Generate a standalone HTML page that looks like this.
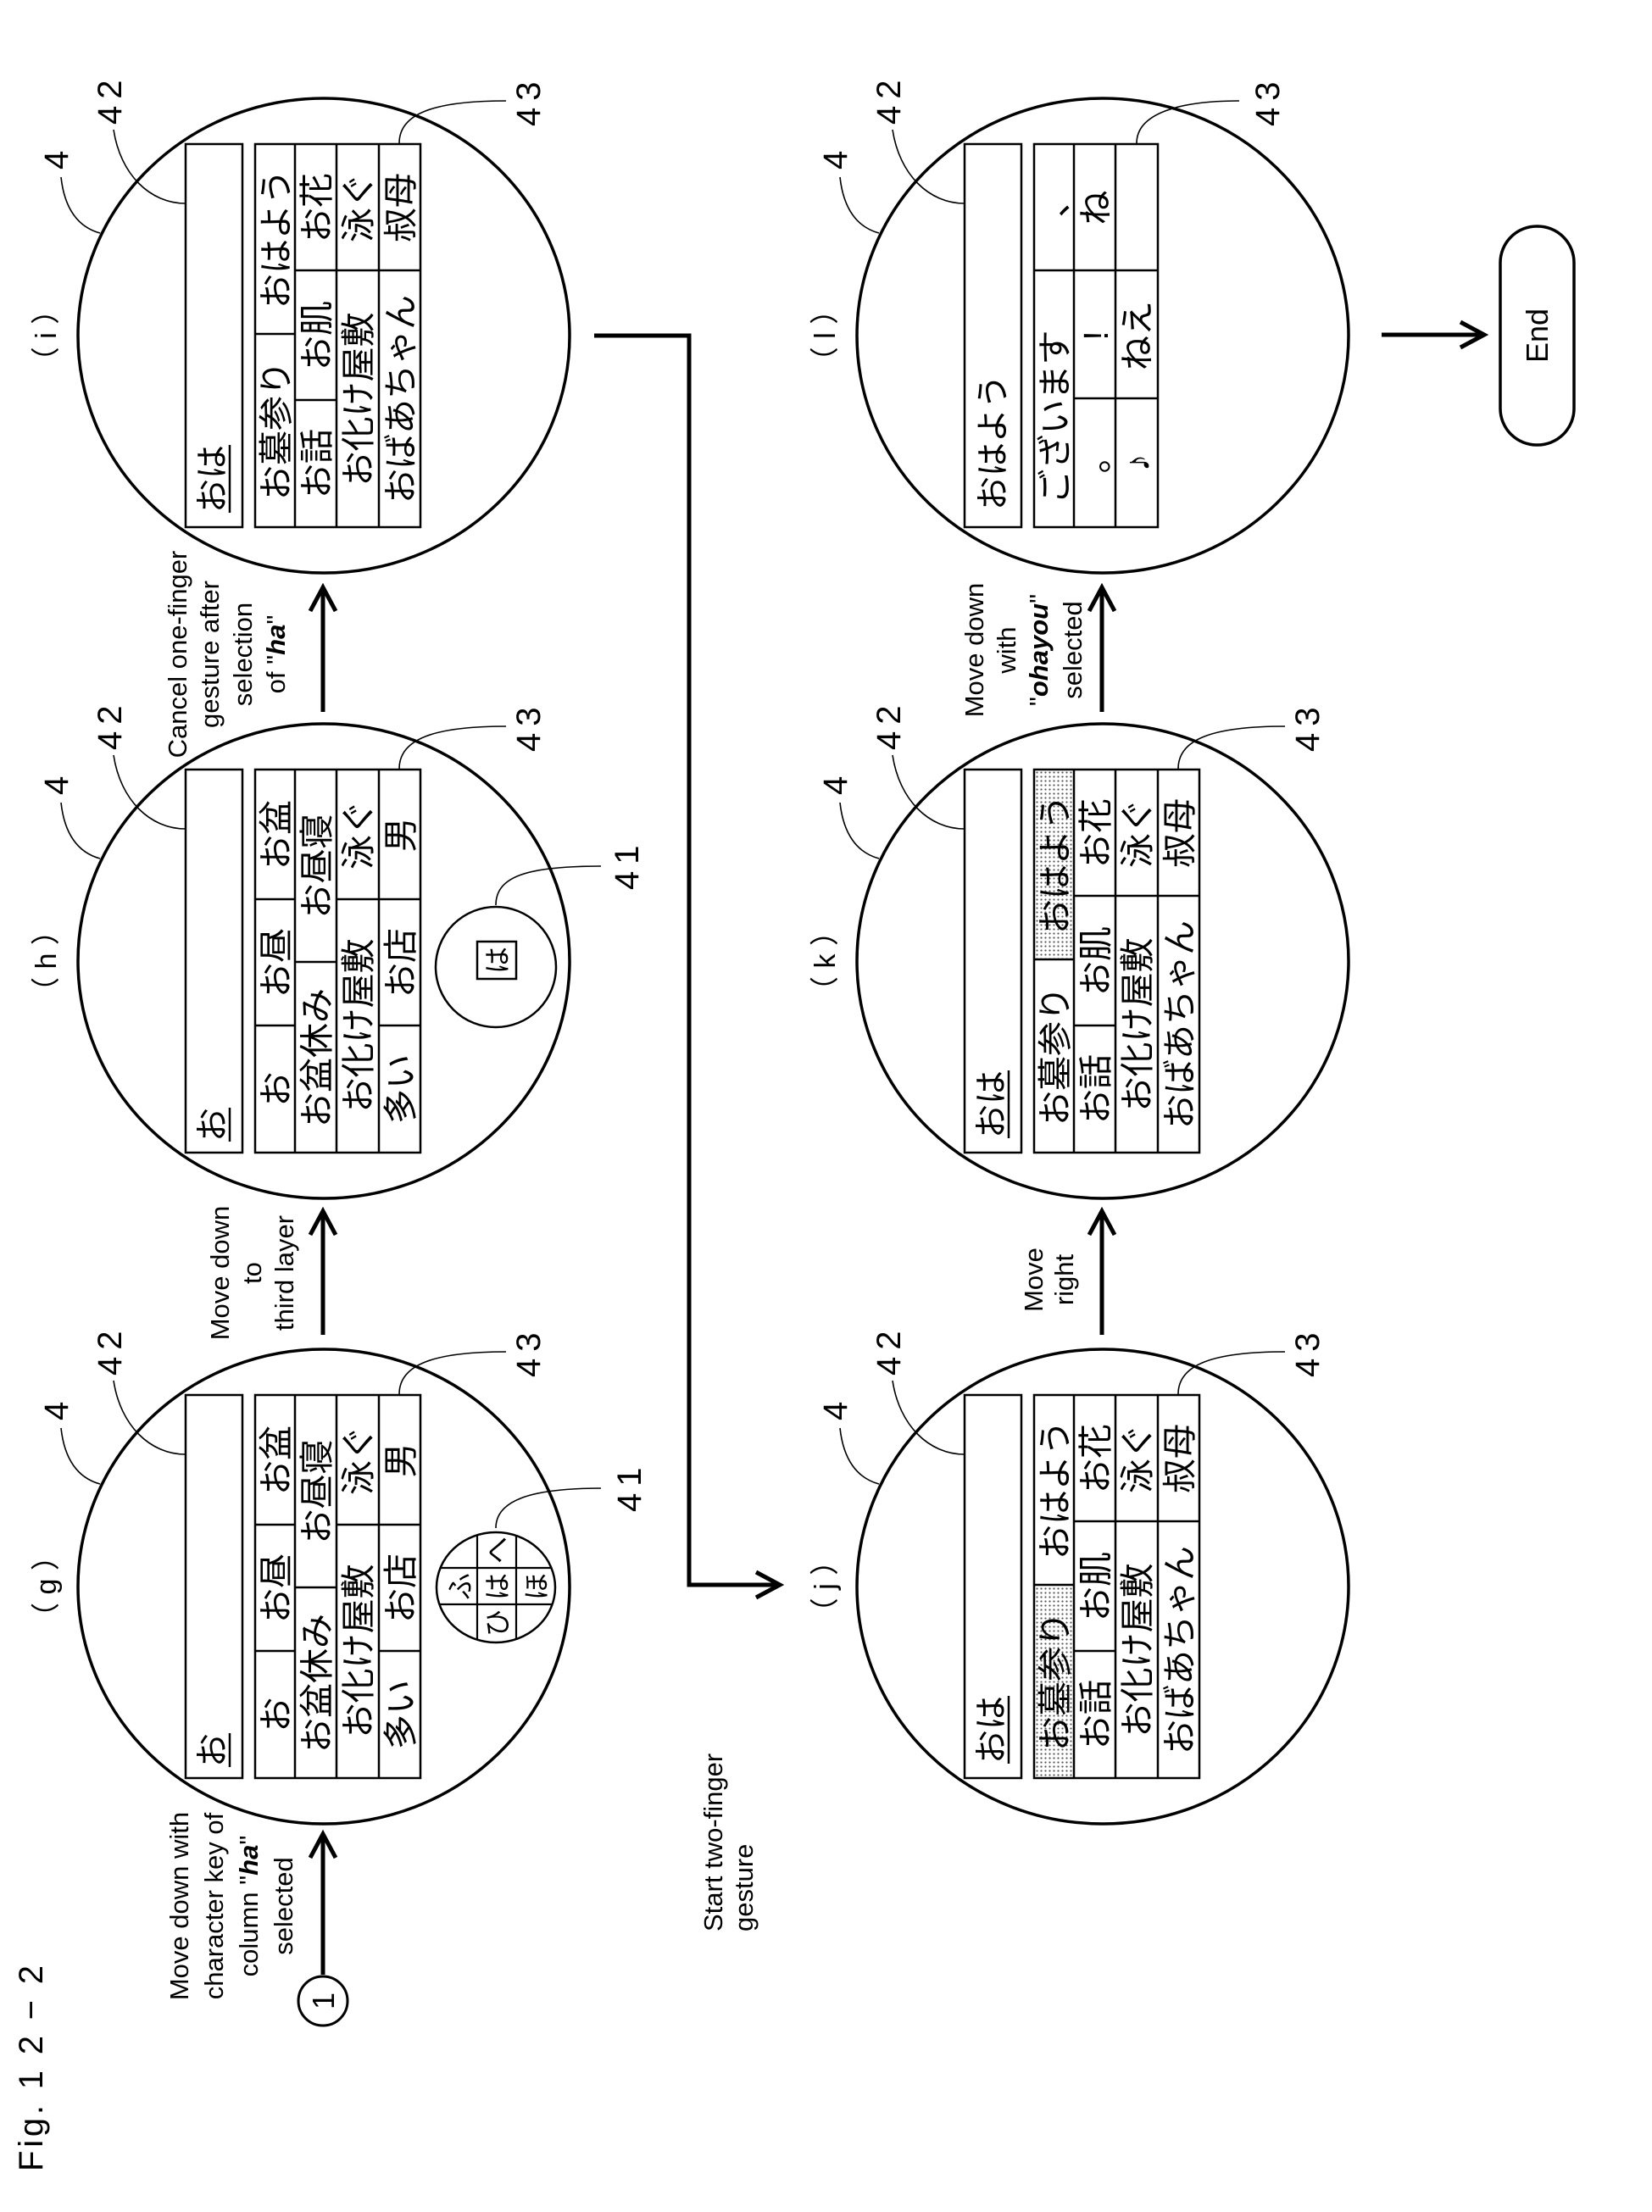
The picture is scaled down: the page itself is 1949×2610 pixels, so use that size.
<!DOCTYPE html>
<html><head><meta charset="utf-8"><style>
html,body{margin:0;padding:0;background:#fff;}
svg{display:block;}
text{font-family:"Liberation Sans","Noto Sans CJK JP",sans-serif;fill:#000;}
.jp{font-size:41px;text-anchor:middle;}
.num{font-size:40px;letter-spacing:8px;}
.lbl{font-size:34px;text-anchor:middle;}
.en{font-size:31px;text-anchor:middle;}
.it{font-style:italic;font-weight:bold;}
</style></head><body>
<svg width="1949" height="2610" viewBox="0 0 1949 2610" xmlns="http://www.w3.org/2000/svg">
<defs>
<pattern id="dots" width="5" height="5" patternUnits="userSpaceOnUse"><rect width="5" height="5" fill="#fff"/><circle cx="2.5" cy="2.5" r="1.1" fill="#555"/></pattern>
<clipPath id="sm"><ellipse cx="-1" cy="203" rx="65" ry="70"/></clipPath>
</defs>
<g transform="translate(0,2610) rotate(-90)">
<text x="48" y="50" font-size="40" textLength="243" lengthAdjust="spacing">Fig. 1 2 − 2</text>

<circle cx="249" cy="381" r="29" fill="none" stroke="#000" stroke-width="3"/>
<text x="249" y="394" font-size="36" text-anchor="middle">1</text>
<g stroke="#000" stroke-width="5" fill="none">
<line x1="280" y1="381" x2="446" y2="381"/><polyline points="418,366 446,381 418,396"/>
<line x1="1035" y1="381" x2="1181" y2="381"/><polyline points="1153,366 1181,381 1153,396"/>
<line x1="1770" y1="381" x2="1917" y2="381"/><polyline points="1889,366 1917,381 1889,396"/>
<line x1="1035" y1="1300" x2="1181" y2="1300"/><polyline points="1153,1285 1181,1300 1153,1315"/>
<line x1="1770" y1="1300" x2="1917" y2="1300"/><polyline points="1889,1285 1917,1300 1889,1315"/>
<line x1="2215" y1="1630" x2="2215" y2="1751"/><polyline points="2200,1723 2215,1751 2230,1723"/>
<polyline points="2214,701 2214,813 740,813 740,920"/><polyline points="725,892 740,920 755,892"/>
</g>

<text class="en"><tspan x="361" y="222">Move down with</tspan><tspan x="361" y="263">character key of</tspan><tspan x="361" y="304">column "<tspan class="it">ha</tspan>"</tspan><tspan x="361" y="345">selected</tspan></text>
<text class="en"><tspan x="1108" y="270">Move down</tspan><tspan x="1108" y="308">to</tspan><tspan x="1108" y="346">third layer</tspan></text>
<text class="en" font-size="30"><tspan x="1838" y="220">Cancel one-finger</tspan><tspan x="1838" y="258">gesture after</tspan><tspan x="1838" y="297">selection</tspan><tspan x="1838" y="336">of "<tspan class="it">ha</tspan>"</tspan></text>
<text font-size="31"><tspan x="331" y="852">Start two-finger</tspan><tspan x="331" y="888">gesture</tspan></text>
<text class="en"><tspan x="1100" y="1230">Move</tspan><tspan x="1100" y="1266">right</tspan></text>
<text class="en"><tspan x="1843" y="1160">Move down</tspan><tspan x="1843" y="1198">with</tspan><tspan x="1843" y="1236">"<tspan class="it">ohayou</tspan>"</tspan><tspan x="1843" y="1276">selected</tspan></text>

<rect x="2085" y="1770" width="258" height="87" rx="43" fill="none" stroke="#000" stroke-width="3.5"/>
<text x="2214" y="1826" font-size="36" text-anchor="middle">End</text>

<!-- g -->
<g transform="translate(738,382)">
<text class="lbl" x="0" y="-316">（ g ）</text>
<ellipse cx="0" cy="0" rx="280" ry="290" fill="none" stroke="#000" stroke-width="3.5"/>
<g fill="none" stroke="#000" stroke-width="1.6">
<path d="M187,-310 C150,-306 128,-290 121,-264"/>
<path d="M243,-248 C190,-240 156,-205 156,-163"/>
<path d="M277,215 C277,130 262,89 227,89"/>
<path d="M116,327 C116,240 100,203 69,203"/>
</g>
<text class="num" x="196" y="-302">4</text>
<text class="num" x="249" y="-239">42</text>
<text class="num" x="247" y="255">43</text>
<text class="num" x="88" y="374">41</text>
<rect x="-226" y="-163" width="452" height="67" fill="none" stroke="#000" stroke-width="2.5"/>
<text x="-213" y="-118" font-size="40">お</text><line x1="-213" y1="-111" x2="-173" y2="-111" stroke="#000" stroke-width="2.5"/>
<g fill="none" stroke="#000" stroke-width="2.5">
<rect x="-226" y="-81" width="452" height="195"/>
<line x1="-226" y1="-34" x2="226" y2="-34"/><line x1="-226" y1="15" x2="226" y2="15"/><line x1="-226" y1="65" x2="226" y2="65"/>
<line x1="-76" y1="-81" x2="-76" y2="-34"/><line x1="73" y1="-81" x2="73" y2="-34"/>
<line x1="-1" y1="-34" x2="-1" y2="15"/>
<line x1="73" y1="15" x2="73" y2="65"/>
<line x1="-76" y1="65" x2="-76" y2="114"/><line x1="73" y1="65" x2="73" y2="114"/>
</g>
<text class="jp" x="-151" y="-42">お</text><text class="jp" x="-2" y="-42">お昼</text><text class="jp" x="149" y="-42">お盆</text>
<text class="jp" x="-114" y="6" font-size="45">お盆休み</text><text class="jp" x="112" y="6">お昼寝</text>
<text class="jp" x="-76" y="55" font-size="44">お化け屋敷</text><text class="jp" x="149" y="55">泳ぐ</text>
<text class="jp" x="-151" y="105">多い</text><text class="jp" x="-2" y="105">お店</text><text class="jp" x="149" y="105">男</text>
<ellipse cx="-1" cy="203" rx="65" ry="70" fill="none" stroke="#000" stroke-width="2.5"/>
<g clip-path="url(#sm)" stroke="#000" stroke-width="2.2">
<line x1="-70" y1="181" x2="70" y2="181"/><line x1="-70" y1="227" x2="70" y2="227"/>
<line x1="-21" y1="130" x2="-21" y2="280"/><line x1="22" y1="130" x2="22" y2="280"/>
</g>
<g font-size="32" text-anchor="middle">
<text x="0" y="172">ふ</text><text x="-43" y="216">ひ</text><text x="0" y="216">は</text><text x="43" y="216">へ</text><text x="0" y="262">ほ</text>
</g>
</g>

<!-- h -->
<g transform="translate(1476,382)">
<text class="lbl" x="0" y="-316">（ h ）</text>
<ellipse cx="0" cy="0" rx="280" ry="290" fill="none" stroke="#000" stroke-width="3.5"/>
<g fill="none" stroke="#000" stroke-width="1.6">
<path d="M187,-310 C150,-306 128,-290 121,-264"/>
<path d="M243,-248 C190,-240 156,-205 156,-163"/>
<path d="M277,215 C277,130 262,89 227,89"/>
<path d="M112,327 C112,240 100,203 66,203"/>
</g>
<text class="num" x="196" y="-302">4</text>
<text class="num" x="249" y="-239">42</text>
<text class="num" x="247" y="255">43</text>
<text class="num" x="84" y="371">41</text>
<rect x="-226" y="-163" width="452" height="67" fill="none" stroke="#000" stroke-width="2.5"/>
<text x="-213" y="-118" font-size="40">お</text><line x1="-213" y1="-111" x2="-173" y2="-111" stroke="#000" stroke-width="2.5"/>
<g fill="none" stroke="#000" stroke-width="2.5">
<rect x="-226" y="-81" width="452" height="195"/>
<line x1="-226" y1="-34" x2="226" y2="-34"/><line x1="-226" y1="15" x2="226" y2="15"/><line x1="-226" y1="65" x2="226" y2="65"/>
<line x1="-76" y1="-81" x2="-76" y2="-34"/><line x1="73" y1="-81" x2="73" y2="-34"/>
<line x1="-1" y1="-34" x2="-1" y2="15"/>
<line x1="73" y1="15" x2="73" y2="65"/>
<line x1="-76" y1="65" x2="-76" y2="114"/><line x1="73" y1="65" x2="73" y2="114"/>
</g>
<text class="jp" x="-151" y="-42">お</text><text class="jp" x="-2" y="-42">お昼</text><text class="jp" x="149" y="-42">お盆</text>
<text class="jp" x="-114" y="6" font-size="45">お盆休み</text><text class="jp" x="112" y="6">お昼寝</text>
<text class="jp" x="-76" y="55" font-size="44">お化け屋敷</text><text class="jp" x="149" y="55">泳ぐ</text>
<text class="jp" x="-151" y="105">多い</text><text class="jp" x="-2" y="105">お店</text><text class="jp" x="149" y="105">男</text>
<circle cx="-7" cy="203" r="71" fill="none" stroke="#000" stroke-width="2.5"/>
<rect x="-21" y="181" width="44" height="46" fill="none" stroke="#000" stroke-width="2.5"/>
<text x="1" y="216" font-size="32" text-anchor="middle">は</text>
</g>

<!-- i -->
<g transform="translate(2214,382)">
<text class="lbl" x="0" y="-316">（ i ）</text>
<ellipse cx="0" cy="0" rx="280" ry="290" fill="none" stroke="#000" stroke-width="3.5"/>
<g fill="none" stroke="#000" stroke-width="1.6">
<path d="M187,-310 C150,-306 128,-290 121,-264"/>
<path d="M243,-248 C190,-240 156,-205 156,-163"/>
<path d="M277,215 C277,130 262,89 227,89"/>
</g>
<text class="num" x="196" y="-302">4</text>
<text class="num" x="249" y="-239">42</text>
<text class="num" x="247" y="255">43</text>
<rect x="-226" y="-163" width="452" height="67" fill="none" stroke="#000" stroke-width="2.5"/>
<text x="-209" y="-118" font-size="40">おは</text><line x1="-209" y1="-111" x2="-129" y2="-111" stroke="#000" stroke-width="2.5"/>
<g fill="none" stroke="#000" stroke-width="2.5">
<rect x="-226" y="-81" width="452" height="195"/>
<line x1="-226" y1="-34" x2="226" y2="-34"/><line x1="-226" y1="15" x2="226" y2="15"/><line x1="-226" y1="65" x2="226" y2="65"/>
<line x1="2" y1="-81" x2="2" y2="-34"/>
<line x1="-76" y1="-34" x2="-76" y2="15"/><line x1="77" y1="-34" x2="77" y2="15"/>
<line x1="77" y1="15" x2="77" y2="114"/>
</g>
<text class="jp" x="-112" y="-42">お墓参り</text><text class="jp" x="114" y="-42">おはよう</text>
<text class="jp" x="-151" y="6">お話</text><text class="jp" x="0" y="6">お肌</text><text class="jp" x="151" y="6">お花</text>
<text class="jp" x="-75" y="55">お化け屋敷</text><text class="jp" x="151" y="55">泳ぐ</text>
<text class="jp" x="-75" y="105">おばあちゃん</text><text class="jp" x="151" y="105">叔母</text>
</g>

<!-- j -->
<g transform="translate(738,1301)">
<text class="lbl" x="0" y="-316">（ j ）</text>
<ellipse cx="0" cy="0" rx="280" ry="290" fill="none" stroke="#000" stroke-width="3.5"/>
<g fill="none" stroke="#000" stroke-width="1.6">
<path d="M187,-310 C150,-306 128,-290 121,-264"/>
<path d="M243,-248 C190,-240 156,-205 156,-163"/>
<path d="M277,215 C277,130 262,89 227,89"/>
</g>
<text class="num" x="196" y="-302">4</text>
<text class="num" x="249" y="-239">42</text>
<text class="num" x="247" y="255">43</text>
<rect x="-226" y="-163" width="452" height="67" fill="none" stroke="#000" stroke-width="2.5"/>
<text x="-209" y="-118" font-size="40">おは</text><line x1="-209" y1="-111" x2="-129" y2="-111" stroke="#000" stroke-width="2.5"/>
<rect x="-226" y="-81" width="228" height="47" fill="url(#dots)"/>
<g fill="none" stroke="#000" stroke-width="2.5">
<rect x="-226" y="-81" width="452" height="195"/>
<line x1="-226" y1="-34" x2="226" y2="-34"/><line x1="-226" y1="15" x2="226" y2="15"/><line x1="-226" y1="65" x2="226" y2="65"/>
<line x1="2" y1="-81" x2="2" y2="-34"/>
<line x1="-76" y1="-34" x2="-76" y2="15"/><line x1="77" y1="-34" x2="77" y2="15"/>
<line x1="77" y1="15" x2="77" y2="114"/>
</g>
<text class="jp" x="-112" y="-42">お墓参り</text><text class="jp" x="114" y="-42">おはよう</text>
<text class="jp" x="-151" y="6">お話</text><text class="jp" x="0" y="6">お肌</text><text class="jp" x="151" y="6">お花</text>
<text class="jp" x="-75" y="55">お化け屋敷</text><text class="jp" x="151" y="55">泳ぐ</text>
<text class="jp" x="-75" y="105">おばあちゃん</text><text class="jp" x="151" y="105">叔母</text>
</g>

<!-- k -->
<g transform="translate(1476,1301)">
<text class="lbl" x="0" y="-316">（ k ）</text>
<ellipse cx="0" cy="0" rx="280" ry="290" fill="none" stroke="#000" stroke-width="3.5"/>
<g fill="none" stroke="#000" stroke-width="1.6">
<path d="M187,-310 C150,-306 128,-290 121,-264"/>
<path d="M243,-248 C190,-240 156,-205 156,-163"/>
<path d="M277,215 C277,130 262,89 227,89"/>
</g>
<text class="num" x="196" y="-302">4</text>
<text class="num" x="249" y="-239">42</text>
<text class="num" x="247" y="255">43</text>
<rect x="-226" y="-163" width="452" height="67" fill="none" stroke="#000" stroke-width="2.5"/>
<text x="-209" y="-118" font-size="40">おは</text><line x1="-209" y1="-111" x2="-129" y2="-111" stroke="#000" stroke-width="2.5"/>
<rect x="2" y="-81" width="224" height="47" fill="url(#dots)"/>
<g fill="none" stroke="#000" stroke-width="2.5">
<rect x="-226" y="-81" width="452" height="195"/>
<line x1="-226" y1="-34" x2="226" y2="-34"/><line x1="-226" y1="15" x2="226" y2="15"/><line x1="-226" y1="65" x2="226" y2="65"/>
<line x1="2" y1="-81" x2="2" y2="-34"/>
<line x1="-76" y1="-34" x2="-76" y2="15"/><line x1="77" y1="-34" x2="77" y2="15"/>
<line x1="77" y1="15" x2="77" y2="114"/>
</g>
<text class="jp" x="-112" y="-42">お墓参り</text><text class="jp" x="114" y="-42">おはよう</text>
<text class="jp" x="-151" y="6">お話</text><text class="jp" x="0" y="6">お肌</text><text class="jp" x="151" y="6">お花</text>
<text class="jp" x="-75" y="55">お化け屋敷</text><text class="jp" x="151" y="55">泳ぐ</text>
<text class="jp" x="-75" y="105">おばあちゃん</text><text class="jp" x="151" y="105">叔母</text>
</g>

<!-- l -->
<g transform="translate(2214,1301)">
<text class="lbl" x="0" y="-316">（ l ）</text>
<ellipse cx="0" cy="0" rx="280" ry="290" fill="none" stroke="#000" stroke-width="3.5"/>
<g fill="none" stroke="#000" stroke-width="1.6">
<path d="M187,-310 C150,-306 128,-290 121,-264"/>
<path d="M243,-248 C190,-240 156,-205 156,-163"/>
<path d="M277,161 C277,90 262,40 227,40"/>
</g>
<text class="num" x="196" y="-302">4</text>
<text class="num" x="249" y="-239">42</text>
<text class="num" x="247" y="208">43</text>
<rect x="-226" y="-163" width="452" height="67" fill="none" stroke="#000" stroke-width="2.5"/>
<text x="-206" y="-116" font-size="40">おはよう</text>
<g fill="none" stroke="#000" stroke-width="2.5">
<rect x="-226" y="-81" width="452" height="146"/>
<line x1="-226" y1="-34" x2="226" y2="-34"/><line x1="-226" y1="15" x2="226" y2="15"/>
<line x1="77" y1="-81" x2="77" y2="-34"/>
<line x1="-74" y1="-34" x2="-74" y2="65"/><line x1="77" y1="-34" x2="77" y2="65"/>
</g>
<text class="jp" x="-96" y="-42" font-size="43">ございます</text><text class="jp" x="160" y="-42">、</text>
<text class="jp" x="-142" y="6">。</text><text class="jp" x="0" y="6">!</text><text class="jp" x="151" y="6">ね</text>
<text class="jp" x="-150" y="55">♪</text><text class="jp" x="0" y="55">ねえ</text>
</g>
</g>
</svg>
</body></html>
